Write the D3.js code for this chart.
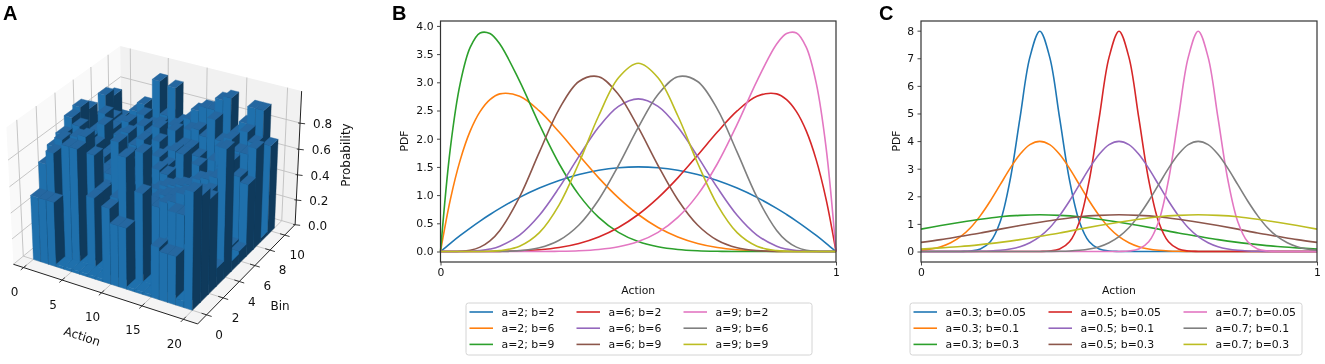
<!DOCTYPE html>
<html><head><meta charset="utf-8">
<script src="https://cdn.jsdelivr.net/npm/d3@7"></script>
<style>html,body{margin:0;padding:0;background:#fff}svg{display:block;filter:blur(.35px)}text{font-family:"DejaVu Sans",sans-serif;fill:#111}</style>
</head><body><svg id="c" width="1325" height="364"></svg>
<script>
// ---------- Panel A data: probability ×100, rows = bin front→back, columns = action
const actionTicks=[0,5,10,15,20], binTicks=[0,2,4,6,8,10], probTicks=[0,0.2,0.4,0.6,0.8];
const heights=[
[50,50,50,2,2,2,2,2,2,58,47,47,2,2,2,40,37,37,5,88],
[70,80,30,88,88,2,55,2,35,60,92,2,69,2,20,35,62,62,40,80],
[78,85,62,90,92,80,55,40,45,60,55,60,55,55,60,62,70,72,62,72],
[82,78,70,48,42,50,45,88,50,55,85,50,55,58,60,62,65,68,70,14],
[90,85,60,55,55,55,52,50,60,55,50,54,58,60,62,64,70,72,75,98],
[93,70,68,60,55,50,60,48,72,50,62,60,45,55,50,48,62,65,60,8],
[87,72,78,60,52,60,50,62,50,65,60,55,72,50,45,55,55,70,12,10],
[72,80,70,66,70,62,68,60,70,62,66,60,55,60,48,50,55,70,60,56],
[88,72,70,72,66,72,68,74,60,75,65,65,60,50,60,72,80,72,72,78],
[83,60,65,64,74,68,70,60,72,60,72,74,70,85,70,72,65,82,75,3],
[61,53,69,76,62,97,72,95,70,74,82,86,86,95,98,73,82,95,95,70]
];
// ---------- Panel B data
const xB=[0,.025,.05,.075,.1,.125,.15,.2,.25,.3,.35,.4,.45,.5,.55,.6,.65,.7,.75,.8,.85,.875,.9,.925,.95,.975,1];
const a2b2=[0,.146,.285,.416,.54,.656,.765,.96,1.125,1.26,1.365,1.44,1.485,1.5,1.485,1.44,1.365,1.26,1.125,.96,.765,.656,.54,.416,.285,.146,0];
const a2b6=[0,.925,1.625,2.134,2.48,2.693,2.795,2.753,2.492,2.118,1.706,1.306,.951,.656,.426,.258,.143,.071,.031,.011,.003,.001,0,0,0,0,0];
const a2b9=[0,1.838,2.985,3.618,3.874,3.865,3.679,3.02,2.253,1.556,1.004,.605,.339,.176,.083,.035,.013,.004,.001,0,0,0,0,0,0,0,0];
const a6b2=[0,0,0,0,0,.001,.003,.011,.031,.071,.143,.258,.426,.656,.951,1.306,1.706,2.118,2.492,2.753,2.795,2.693,2.48,2.134,1.625,.925,0];
const a6b6=[0,0,.001,.004,.016,.043,.094,.291,.642,1.132,1.686,2.207,2.574,2.707,2.574,2.207,1.686,1.132,.642,.291,.094,.043,.016,.004,.001,0,0];
const a6b9=[0,0,.004,.023,.078,.189,.373,.967,1.761,2.524,3.015,3.099,2.783,2.199,1.525,.918,.47,.199,.065,.015,.002,.001,0,0,0,0,0];
const a9b2=[0,0,0,0,0,0,0,0,.001,.004,.013,.035,.083,.176,.339,.605,1.004,1.556,2.253,3.02,3.679,3.865,3.874,3.618,2.985,1.838,0];
const a9b6=[0,0,0,0,0,.001,.002,.015,.065,.199,.47,.918,1.525,2.199,2.783,3.099,3.015,2.524,1.761,.967,.373,.189,.078,.023,.004,0,0];
const a9b9=[0,0,0,0,.001,.005,.015,.094,.334,.827,1.57,2.407,3.08,3.338,3.08,2.407,1.57,.827,.334,.094,.015,.005,.001,0,0,0,0];
const labelsB=["a=2; b=2","a=2; b=6","a=2; b=9","a=6; b=2","a=6; b=6","a=6; b=9","a=9; b=2","a=9; b=6","a=9; b=9"];
const ticksB=[0,.5,1,1.5,2,2.5,3,3.5,4];
// ---------- Panel C data
const xFine=[0,.025,.05,.075,.1,.125,.15,.175,.2,.225,.25,.275,.3,.325,.35,.375,.4,.425,.45,.475,.5,.525,.55,.575,.6,.625,.65,.675,.7,.725,.75,.775,.8,.825,.85,.875,.9,.925,.95,.975,1];
const xCoarse=[0,.05,.1,.15,.2,.25,.3,.35,.4,.45,.5,.55,.6,.65,.7,.75,.8,.85,.9,.95,1];
const m3s05=[0,0,0,0,.003,.017,.089,.35,1.08,2.59,4.84,7.04,7.98,7.04,4.84,2.59,1.08,.35,.089,.017,.003,0,0,0,0,0,0,0,0,0,0,0,0,0,0,0,0,0,0,0,0];
const m3s1=[.044,.091,.175,.32,.54,.86,1.3,1.83,2.42,3.01,3.52,3.87,3.99,3.87,3.52,3.01,2.42,1.83,1.3,.86,.54,.32,.175,.091,.044,.02,.009,.004,.001,0,0,0,0,0,0,0,0,0,0,0,0];
const m3s3=[.81,.94,1.06,1.17,1.26,1.31,1.33,1.31,1.26,1.17,1.06,.94,.81,.67,.55,.43,.33,.25,.18,.13,.087];
const m5s05=[0,0,0,0,0,0,0,0,0,0,0,0,.003,.017,.089,.35,1.08,2.59,4.84,7.04,7.98,7.04,4.84,2.59,1.08,.35,.089,.017,.003,0,0,0,0,0,0,0,0,0,0,0,0];
const m5s1=[0,0,0,0,.001,.004,.009,.02,.044,.091,.175,.32,.54,.86,1.3,1.83,2.42,3.01,3.52,3.87,3.99,3.87,3.52,3.01,2.42,1.83,1.3,.86,.54,.32,.175,.091,.044,.02,.009,.004,.001,0,0,0,0];
const m5s3=[.33,.43,.55,.67,.81,.94,1.06,1.17,1.26,1.31,1.33,1.31,1.26,1.17,1.06,.94,.81,.67,.55,.43,.33];
const m7s05=[0,0,0,0,0,0,0,0,0,0,0,0,0,0,0,0,0,0,0,0,.003,.017,.089,.35,1.08,2.59,4.84,7.04,7.98,7.04,4.84,2.59,1.08,.35,.089,.017,.003,0,0,0,0];
const m7s1=[0,0,0,0,0,0,0,0,0,0,0,0,.001,.004,.009,.02,.044,.091,.175,.32,.54,.86,1.3,1.83,2.42,3.01,3.52,3.87,3.99,3.87,3.52,3.01,2.42,1.83,1.3,.86,.54,.32,.175,.091,.044];
const m7s3=[.087,.13,.18,.25,.33,.43,.55,.67,.81,.94,1.06,1.17,1.26,1.31,1.33,1.31,1.26,1.17,1.06,.94,.81];
const labelsC=["a=0.3; b=0.05","a=0.3; b=0.1","a=0.3; b=0.3","a=0.5; b=0.05","a=0.5; b=0.1","a=0.5; b=0.3","a=0.7; b=0.05","a=0.7; b=0.1","a=0.7; b=0.3"];
const ticksC=[0,1,2,3,4,5,6,7,8];
const tab=["#1f77b4","#ff7f0e","#2ca02c","#d62728","#9467bd","#8c564b","#e377c2","#7f7f7f","#bcbd22"];

const svg=d3.select("#c");
[["A",3,20],["B",392,20],["C",879,20]].forEach(([t,x,y])=>svg.append("text").attr("x",x).attr("y",y).style("font","bold 20px 'Liberation Sans'").style("fill","#000").text(t));

function linePanel(o){
  const g=svg.append("g");
  const x=d3.scaleLinear().domain([0,1]).range([o.x0,o.x1]);
  const y=d3.scaleLinear().domain(o.yDom).range([o.yBottom,21]);
  const line=d3.line().curve(d3.curveCatmullRom.alpha(.5));
  o.series.forEach((s,i)=>g.append("path").attr("d",line(s.xs.map((v,k)=>[x(v),y(s.ys[k])]))).attr("fill","none").attr("stroke",tab[i]).attr("stroke-width",1.6));
  g.append("rect").attr("x",o.x0).attr("y",21).attr("width",o.x1-o.x0).attr("height",o.yBottom-21).attr("fill","none").attr("stroke","#333").attr("stroke-width",1.2);
  const ya=g.append("g").attr("transform",`translate(${o.x0},0)`).call(d3.axisLeft(y).tickValues(o.ticks).tickFormat(o.fmt).tickSize(3.5).tickPadding(3.5));
  const xa=g.append("g").attr("transform",`translate(0,${o.yBottom})`).call(d3.axisBottom(x).tickValues([0,1]).tickFormat(d3.format("d")).tickSize(3.5).tickPadding(3));
  [ya,xa].forEach(a=>{a.select(".domain").remove();a.selectAll("line").attr("stroke","#333").attr("stroke-width",.9);a.selectAll("text").style("font-size","10.8px").style("font-family","'DejaVu Sans'").style("fill","#111")});
  g.append("text").attr("x",(o.x0+o.x1)/2).attr("y",294).attr("text-anchor","middle").style("font-size","10.8px").text("Action");
  g.append("text").attr("transform",`translate(${o.pdfX},141) rotate(-90)`).attr("text-anchor","middle").style("font-size","10.8px").text("PDF");
  g.append("rect").attr("x",o.legX).attr("y",303).attr("width",o.legW).attr("height",52).attr("rx",2.5).attr("fill","#fff").attr("stroke","#d4d4d4").attr("stroke-width",1);
  o.labels.forEach((t,i)=>{
    const c=Math.floor(i/3),r=i%3,yy=312+r*16.2,lx=o.legCols[c];
    g.append("line").attr("x1",lx).attr("x2",lx+23.5).attr("y1",yy).attr("y2",yy).attr("stroke",tab[i]).attr("stroke-width",1.6);
    g.append("text").attr("x",lx+32).attr("y",yy+3.9).style("font-size","10.9px").text(t);
  });
}
linePanel({x0:440.5,x1:836,yDom:[-.186,4.087],yBottom:262,ticks:ticksB,fmt:d3.format(".1f"),pdfX:408,
  series:[a2b2,a2b6,a2b9,a6b2,a6b6,a6b9,a9b2,a9b6,a9b9].map(ys=>({xs:xB,ys})),
  labels:labelsB,legX:466,legW:346,legCols:[469.5,576.5,683.5]});
linePanel({x0:921,x1:1317,yDom:[-.38,8.35],yBottom:262,ticks:ticksC,fmt:d3.format("d"),pdfX:900,
  series:[[xFine,m3s05],[xFine,m3s1],[xCoarse,m3s3],[xFine,m5s05],[xFine,m5s1],[xCoarse,m5s3],[xFine,m7s05],[xFine,m7s1],[xCoarse,m7s3]].map(([xs,ys])=>({xs,ys})),
  labels:labelsC,legX:910,legW:392,legCols:[913.5,1048.5,1183.5]});

// ---------- Panel A: 3D bars with a perspective camera (elev 30, azim -60)
const g3=svg.append("g");
const xMin=-1.34,xMax=21.7,yMin=-1.05,yMax=11.45,zMax=1.04;
const sX=d3.scaleLinear().domain([xMin,xMax]).range([0,1]);
const sY=d3.scaleLinear().domain([yMin,yMax]).range([0,1]);
const sZ=d3.scaleLinear().domain([0,zMax]).range([0,.75]);
const pxS=d3.scaleLinear().domain([0,1]).range([157,368]);
const pyS=d3.scaleLinear().domain([0,1]).range([178,-30]);
function P(x,y,z){
  const qx=sX(x)-.5,qy=sY(y)-.5,qz=sZ(z)-.375;
  const xv=qx*.866+qy*.5, yv=-.25*qx+.433*qy+.866*qz, zv=.433*qx-.75*qy+.5*qz, f=8/(8-zv);
  return [pxS(xv*f),pyS(yv*f)];
}
const poly=(pts,fill,stroke)=>g3.append("polygon").attr("points",pts.map(p=>P(...p).join(",")).join(" ")).attr("fill",fill).attr("stroke",stroke||"none").attr("stroke-width",stroke?.4:0);
poly([[xMin,yMin,0],[xMin,yMax,0],[xMin,yMax,zMax],[xMin,yMin,zMax]],"#f9f9f9");
poly([[xMin,yMax,0],[xMax,yMax,0],[xMax,yMax,zMax],[xMin,yMax,zMax]],"#f1f1f1");
poly([[xMin,yMin,0],[xMax,yMin,0],[xMax,yMax,0],[xMin,yMax,0]],"#f4f4f4");
const seg=(a,b,stroke,w)=>{const p=P(...a),q=P(...b);g3.append("line").attr("x1",p[0]).attr("y1",p[1]).attr("x2",q[0]).attr("y2",q[1]).attr("stroke",stroke).attr("stroke-width",w)};
const gc="#c0c0c0";
actionTicks.forEach(t=>{seg([t,yMin,0],[t,yMax,0],gc,.9);seg([t,yMax,0],[t,yMax,zMax],gc,.9)});
binTicks.forEach(t=>{seg([xMax,t,0],[xMin,t,0],gc,.9);seg([xMin,t,0],[xMin,t,zMax],gc,.9)});
probTicks.forEach(t=>{seg([xMin,yMin,t],[xMin,yMax,t],gc,.9);seg([xMin,yMax,t],[xMax,yMax,t],gc,.9)});
// bars: back to front, left to right
const nBins=heights.length, binW=10.44/nBins;
const bars=[];
d3.range(nBins-1,-1,-1).forEach(j=>heights[j].forEach((h,i)=>{if(h>0)bars.push({i,j,z:h/100})}));
bars.forEach(b=>{
  const x0=b.i,x1=b.i+1,y0=b.j*binW,y1=(b.j+1)*binW,z=b.z;
  poly([[x0,y0,0],[x1,y0,0],[x1,y0,z],[x0,y0,z]],"#1f70ac","#1f70ac");
  poly([[x1,y0,0],[x1,y1,0],[x1,y1,z],[x1,y0,z]],"#0f3a5c","#0f3a5c");
  poly([[x0,y0,z],[x1,y0,z],[x1,y1,z],[x0,y1,z]],b.z<.1?"#1f70ac":"#2567a0",b.z<.1?"#1f70ac":"#2567a0");
});
const ac="#222";
seg([xMin,yMin,0],[xMax,yMin,0],ac,1);seg([xMax,yMin,0],[xMax,yMax,0],ac,1);seg([xMax,yMax,0],[xMax,yMax,zMax],ac,1);
const tl=(p,t,a)=>g3.append("text").attr("x",p[0]).attr("y",p[1]).attr("text-anchor",a||"middle").attr("dominant-baseline","middle").style("font-size","12px").text(t);
actionTicks.forEach(t=>{seg([t,yMin-.3,0],[t,yMin+.3,0],ac,.9);const p=P(t,yMin,0);tl([p[0]-9,p[1]+25],t)});
binTicks.forEach(t=>{seg([xMax-.6,t,0],[xMax+.6,t,0],ac,.9);const p=P(xMax,t,0);tl([p[0]+12.5,p[1]+20.5],t)});
probTicks.forEach(t=>{const p=P(xMax,yMax,t);g3.append("line").attr("x1",p[0]-2).attr("x2",p[0]+5).attr("y1",p[1]).attr("y2",p[1]+.8).attr("stroke",ac).attr("stroke-width",.9);tl([p[0]+22.5,p[1]+1.5],t.toFixed(1))});
g3.append("text").attr("transform","translate(82,337) rotate(18)").attr("text-anchor","middle").attr("dominant-baseline","middle").style("font-size","12px").text("Action");
tl([280,306],"Bin");
g3.append("text").attr("transform","translate(346,155) rotate(-90)").attr("text-anchor","middle").attr("dominant-baseline","middle").style("font-size","12px").text("Probability");
</script></body></html>
